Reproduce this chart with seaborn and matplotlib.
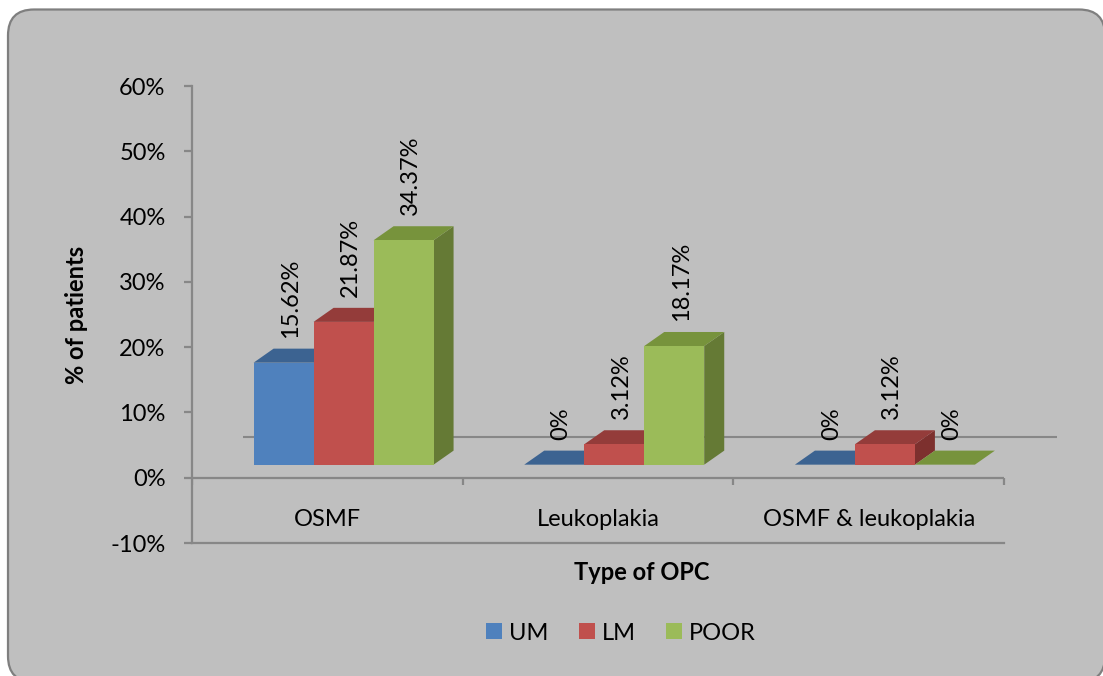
import numpy as np
import pandas as pd
import matplotlib
matplotlib.use("Agg")
import matplotlib.pyplot as plt
import seaborn as sns
from matplotlib.patches import Polygon, FancyBboxPatch, Rectangle
from matplotlib.transforms import IdentityTransform

# ---- data ---------------------------------------------------------------
categories = ["OSMF", "Leukoplakia", "OSMF & leukoplakia"]
grades = ["UM", "LM", "POOR"]
um_pct = [15.62, 0, 0]
lm_pct = [21.87, 3.12, 3.12]
poor_pct = [34.37, 18.17, 0]
y_ticks = [-10, 0, 10, 20, 30, 40, 50, 60]

# ---- styling ------------------------------------------------------------
front_colors = ["#4f81bd", "#c0504d", "#9bbb59"]
top_colors = ["#3c6391", "#943c3a", "#77933c"]
side_colors = ["#345580", "#7d302e", "#657a35"]
bg = "#bfbfbf"
line_gray = "#878787"

W, H, DPI = 1103, 676, 100
sns.set_style("white")
plt.rcParams["font.family"] = ["Lato", "DejaVu Sans"]
plt.rcParams["text.color"] = "black"
plt.rcParams["ytick.labelcolor"] = "black"
FS = 17

fig = plt.figure(figsize=(W / DPI, H / DPI), dpi=DPI)
fig.patch.set_facecolor("white")

# rounded chart frame (pixel coordinates, origin bottom-left)
frame = FancyBboxPatch((8, -6), 1097, H - 9.5 + 6,
                       boxstyle="round,pad=0,rounding_size=26",
                       transform=IdentityTransform(), facecolor=bg,
                       edgecolor="#7f7f7f", linewidth=1.6, zorder=-10)
fig.patches.append(frame)

# plot area in pixels
px_left, px_right, px_top, px_bottom = 192, 1057, 86, 543
ax = fig.add_axes([px_left / W, 1 - px_bottom / H,
                   (px_right - px_left) / W, (px_bottom - px_top) / H])
ax.set_facecolor("none")
ax.set_zorder(1)

rows = []
for g, vals in zip(grades, [um_pct, lm_pct, poor_pct]):
    for c, v in zip(categories, vals):
        rows.append({"type": c, "grade": g, "pct": v})
df = pd.DataFrame(rows)

sns.barplot(data=df, x="type", y="pct", hue="grade", order=categories,
            hue_order=grades, palette=front_colors, width=0.665,
            saturation=1, linewidth=0, errorbar=None, legend=False, ax=ax)

ax.set_xlim(-0.5, 2.5 + 53 / 270.67)
ax.set_ylim(-10, 60)

# 3-D look: bars stand slightly in front of the zero plane
base = 2.0          # front base lifted above 0 %
shift = 0.06        # bars sit a little right of the category centre
ddx = 20 / 270.67   # depth offset (x, category units)
ddy = 2.15          # depth offset (y, percent units)

# back edge of the floor
ax.hlines(base + 4.3, -0.5 + 51 / 270.67, ax.get_xlim()[1],
          color=line_gray, lw=1.5, zorder=1)

for j, cont in enumerate(ax.containers):
    for i, bar in enumerate(cont):
        bar.set_x(bar.get_x() + shift)
        bar.set_y(base)
        bar.set_zorder(4 + 3 * j)
        x0 = bar.get_x()
        x1 = x0 + bar.get_width()
        top = base + bar.get_height()
        side = Polygon([(x1, base), (x1, top), (x1 + ddx, top + ddy),
                        (x1 + ddx, base + ddy)], closed=True,
                       facecolor=side_colors[j], edgecolor="none",
                       zorder=2 + 3 * j)
        lid = Polygon([(x0, top), (x1, top), (x1 + ddx, top + ddy),
                       (x0 + ddx, top + ddy)], closed=True,
                      facecolor=top_colors[j], edgecolor="none",
                      zorder=3 + 3 * j)
        ax.add_patch(side)
        ax.add_patch(lid)
        ax.annotate(f"{bar.get_height():g}%", ((x0 + x1) / 2, top),
                    xytext=(7, 25), textcoords="offset pixels",
                    rotation=90, ha="center", va="bottom",
                    fontsize=FS, color="black", zorder=20)

# zero line with category dividers
ax.hlines(0, -0.5, 2.5, color=line_gray, lw=1.6, zorder=1)
for xb in [-0.5, 0.5, 1.5, 2.5]:
    ax.vlines(xb, -1.1, 0, color=line_gray, lw=1.6, zorder=1)
for i, c in enumerate(categories):
    ax.text(i, -6.4, c, ha="center", va="center", fontsize=FS)

# axes
for s in ["top", "right"]:
    ax.spines[s].set_visible(False)
ax.spines["left"].set_color(line_gray)
ax.spines["left"].set_linewidth(1.6)
ax.spines["bottom"].set_color(line_gray)
ax.spines["bottom"].set_linewidth(1.6)
ax.spines["bottom"].set_bounds(-0.5, 2.5)
ax.set_xticks([])
ax.set_yticks(y_ticks)
ax.set_yticklabels([f"{t}%" for t in y_ticks])
ax.tick_params(axis="y", direction="out", length=6, width=1.6,
               color=line_gray, pad=13, labelsize=FS, left=True,
               labelcolor="black")
ax.set_xlabel("")
ax.set_ylabel("")

fig.text(77 / W, 1 - 315 / H, "% of patients", rotation=90, ha="center",
         va="center", fontsize=FS, fontweight="bold")
fig.text(642 / W, 1 - 573 / H, "Type of OPC", ha="center", va="center",
         fontsize=FS, fontweight="bold")

handles = [Rectangle((0, 0), 1, 1, facecolor=c, edgecolor="none")
           for c in front_colors]
fig.legend(handles, grades, loc="center", ncol=3, frameon=False,
           bbox_to_anchor=(621 / W, 1 - 633 / H), fontsize=FS,
           handlelength=0.66, handleheight=0.66, handletextpad=0.3,
           columnspacing=1.3)

fig.savefig("out.png", dpi=DPI, facecolor=fig.get_facecolor())
